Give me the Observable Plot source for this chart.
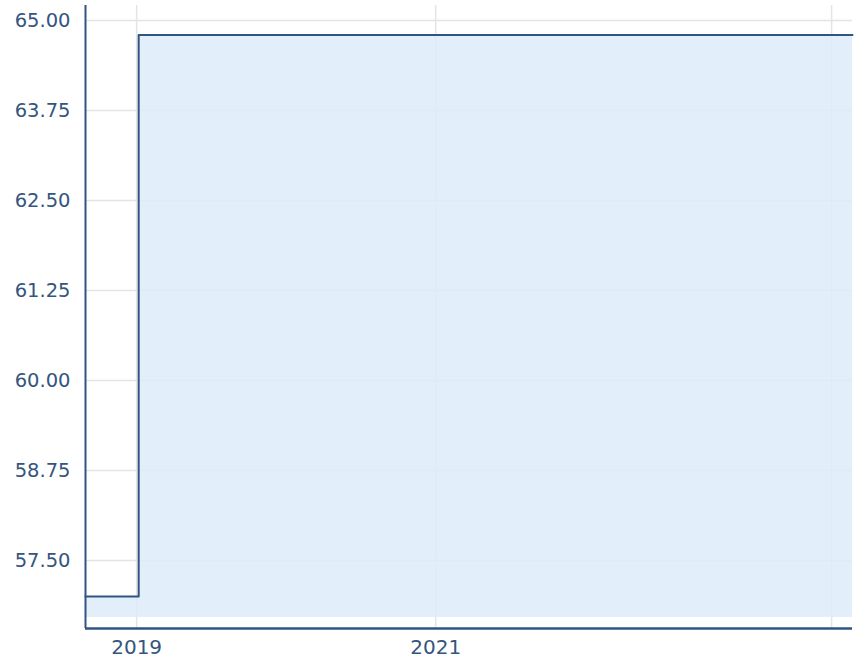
<!DOCTYPE html>
<html>
<head>
<meta charset="utf-8">
<script src="https://cdn.jsdelivr.net/npm/d3@7"></script>
<script src="https://cdn.jsdelivr.net/npm/@observablehq/plot@0.6"></script>
<style>
  html, body { margin: 0; padding: 0; background: #fff; }
</style>
</head>
<body>
<div id="chart"></div>
<script>
// Data
const dates = ["2018-08-29", "2019-01-06", "2023-10-17"];
const values = [57.0, 64.8, 64.8];
const yTicks = [57.5, 58.75, 60, 61.25, 62.5, 63.75, 65];
const xLabelTicks = ["2019-01-01", "2021-01-01"];
const xGridDates = ["2019-01-01", "2021-01-01", "2023-08-27"];
const xDomain = ["2018-08-29", "2023-10-17"];
const yDomain = [56.556, 65.208];
const baseline = 56.71;

const data = dates.map((d, i) => ({date: new Date(d), value: values[i]}));
const dark = "#2e5583";
const textColor = "#34557e";

const chart = Plot.plot({
  width: 855,
  height: 659,
  marginLeft: 85,
  marginRight: 3,
  marginTop: 5,
  marginBottom: 31,
  style: {fontFamily: "DejaVu Sans, Verdana, sans-serif", fontSize: "19.5px", color: textColor, background: "#fff"},
  x: {type: "time", domain: xDomain.map(d => new Date(d))},
  y: {domain: yDomain},
  marks: [
    Plot.gridY(yTicks, {stroke: "#e4e4e4", strokeOpacity: 1, strokeWidth: 1.5}),
    Plot.gridX(xGridDates.map(d => new Date(d)), {stroke: "#e4e4e4", strokeOpacity: 1, strokeWidth: 1.5}),
    Plot.areaY(data, {x: "date", y1: baseline, y2: "value", curve: "step-after", fill: "#ddebf8", fillOpacity: 0.85}),
    Plot.lineY(data, {x: "date", y: "value", curve: "step-after", stroke: dark, strokeWidth: 2}),
    Plot.axisY(yTicks, {tickSize: 0, tickPadding: 15, tickFormat: d3.format(".2f"), fill: textColor, label: null, fontSize: 19.5}),
    Plot.axisX(xLabelTicks.map(d => new Date(d)), {tickSize: 0, tickPadding: 11, tickFormat: d3.utcFormat("%Y"), fill: textColor, label: null, fontSize: 20}),
    Plot.ruleX([new Date(xDomain[0])], {stroke: dark, strokeWidth: 2}),
    Plot.ruleY([yDomain[0]], {stroke: dark, strokeWidth: 2.5})
  ]
});
document.getElementById("chart").appendChild(chart);
</script>
</body>
</html>
